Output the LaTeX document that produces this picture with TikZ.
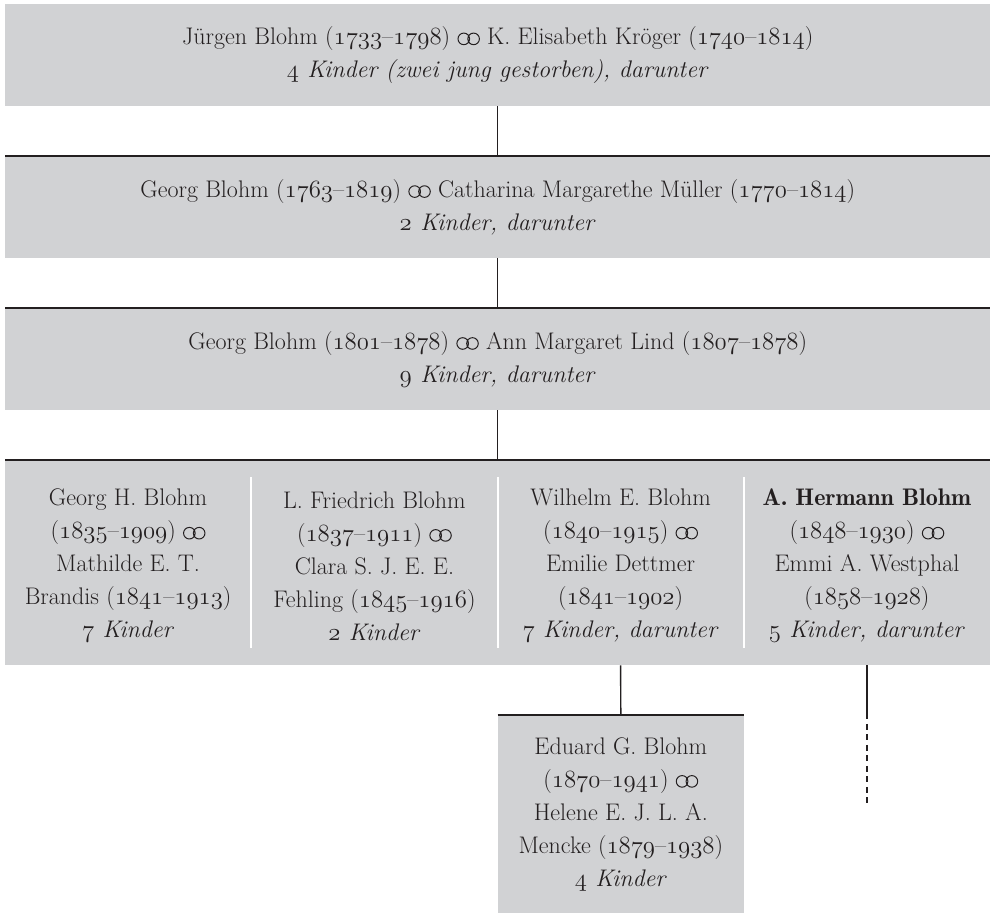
\documentclass[tikz,border=0pt]{standalone}
\usepackage{fontspec}
\usetikzlibrary{calc}
\definecolor{boxgray}{HTML}{D1D2D4}
\definecolor{ink}{HTML}{231F20}
\newcommand\osf[1]{{\fontencoding{OML}\fontfamily{cmm}\fontseries{m}\fontshape{it}\selectfont #1}}
\newcommand\marr{\tikz[baseline=0pt,x=1bp,y=1bp]{\draw[ink,line width=1bp] (6,5.8) circle[radius=5.8] (15.8,5.8) circle[radius=5.8];}}
\newcommand\mainfs{\fontsize{24bp}{33bp}\selectfont}
\begin{document}
\begin{tikzpicture}[x=1bp,y=-1bp,
  every node/.style={text=ink},
  box/.style={fill=boxgray, inner sep=0pt, anchor=north west, align=center, font=\mainfs},
  txt/.style={inner sep=0pt, align=center, font=\mainfs},
  topline/.style={draw=ink, line width=2.2bp},
  conn/.style={draw=ink, line width=1.4bp},
  sep/.style={draw=white, line width=2bp}]
\useasboundingbox (0,0) rectangle (993,913);
\node[box, minimum width=985bp, minimum height=102bp] (b1) at (5,4)
  {Jürgen Blohm (\osf{1733}–\osf{1798}) \marr\ K. Elisabeth Kröger (\osf{1740}–\osf{1814})\\
   \textit{\osf{4} Kinder (zwei jung gestorben), darunter}};
\node[box, minimum width=985bp, minimum height=102bp] (b2) at (5,156)
  {Georg Blohm (\osf{1763}–\osf{1819}) \marr\ Catharina Margarethe Müller (\osf{1770}–\osf{1814})\\
   \textit{\osf{2} Kinder, darunter}};
\node[box, minimum width=985bp, minimum height=102bp] (b3) at (5,308)
  {Georg Blohm (\osf{1801}–\osf{1878}) \marr\ Ann Margaret Lind (\osf{1807}–\osf{1878})\\
   \textit{\osf{9} Kinder, darunter}};
\node[box, minimum width=985bp, minimum height=205bp] (b4) at (5,460) {};
\node[txt] (c1) at (128.1,566)
  {Georg H. Blohm\\(\osf{1835}–\osf{1909}) \marr\\Mathilde E. T.\\Brandis (\osf{1841}–\osf{1913})\\\textit{\osf{7} Kinder}};
\node[txt] (c2) at (374.4,566)
  {L. Friedrich Blohm\\(\osf{1837}–\osf{1911}) \marr\\Clara S. J. E. E.\\Fehling (\osf{1845}–\osf{1916})\\\textit{\osf{2} Kinder}};
\node[txt] (c3) at (620.6,566)
  {Wilhelm E. Blohm\\(\osf{1840}–\osf{1915}) \marr\\Emilie Dettmer\\(\osf{1841}–\osf{1902})\\\textit{\osf{7} Kinder, darunter}};
\node[txt] (c4) at (866.9,566)
  {{\fontseries{b}\selectfont A. Hermann Blohm}\\(\osf{1848}–\osf{1930}) \marr\\Emmi A. Westphal\\(\osf{1858}–\osf{1928})\\\textit{\osf{5} Kinder, darunter}};
\node[box, minimum width=246.25bp, minimum height=198bp] (b5) at (497.5,715)
  {Eduard G. Blohm\\(\osf{1870}–\osf{1941}) \marr\\Helene E. J. L. A.\\Mencke (\osf{1879}–\osf{1938})\\\textit{\osf{4} Kinder}};
% white separators
\foreach \xx in {251.25,497.5,743.75}
  \draw[sep] (\xx,477) -- (\xx,648);
% top rules
\foreach \n in {b2,b3,b4,b5}
  \draw[topline] (\n.north west) -- (\n.north east);
% connectors
\draw[conn] (b1.south) -- (b2.north);
\draw[conn] (b2.south) -- (b3.north);
\draw[conn] (b3.south) -- (b4.north);
\coordinate (c3b) at (c3 |- b4.south);
\draw[conn] (c3b) -- (b5.north);
\coordinate (d1) at (c4 |- b4.south);
\coordinate (d2) at ($(d1)+(0,48)$);
\coordinate (d3) at ($(d1)+(0,138)$);
\draw[conn] (d1) -- (d2);
\draw[conn, dash pattern=on 6bp off 4.5bp] (d2) -- (d3);
\end{tikzpicture}
\end{document}
